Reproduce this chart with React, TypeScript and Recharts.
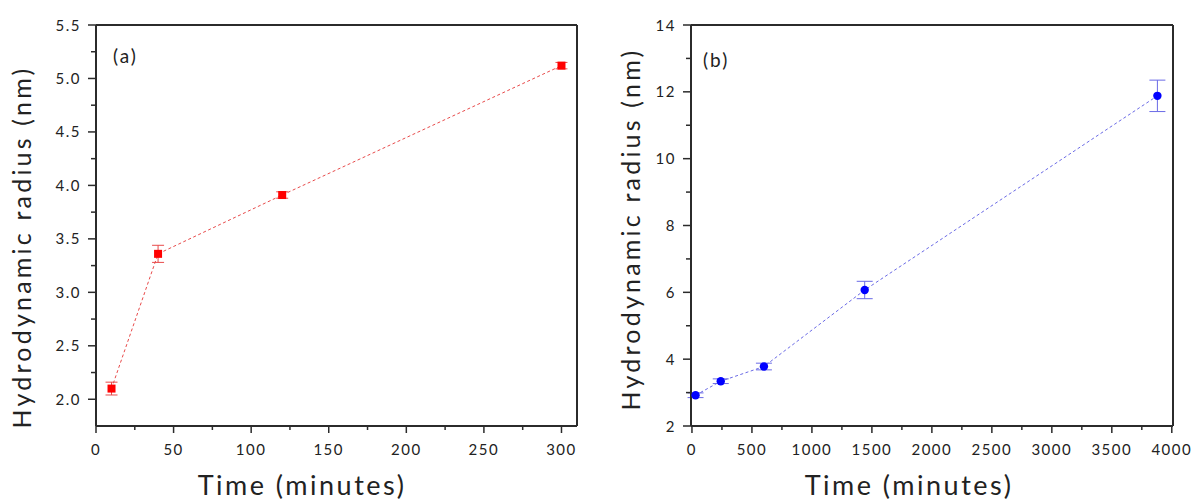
import { ErrorBar, Line, LineChart, ReferenceLine, XAxis, YAxis } from 'recharts'

// panel (a)
const timeA = [10, 40, 120, 300]
const radiusA = [2.1, 3.36, 3.91, 5.12]
const errA = [0.06, 0.08, 0.03, 0.03]
const xTicksA = [0, 25, 50, 75, 100, 125, 150, 175, 200, 225, 250, 275, 300]
const yTicksA = [2.0, 2.25, 2.5, 2.75, 3.0, 3.25, 3.5, 3.75, 4.0, 4.25, 4.5, 4.75, 5.0, 5.25, 5.5]

// panel (b)
const timeB = [30, 240, 600, 1440, 3880]
const radiusB = [2.92, 3.34, 3.78, 6.07, 11.88]
const errB = [0.07, 0.07, 0.1, 0.26, 0.47]
const xTicksB = [0, 250, 500, 750, 1000, 1250, 1500, 1750, 2000, 2250, 2500, 2750, 3000, 3250, 3500, 3750, 4000]
const yTicksB = [2, 3, 4, 5, 6, 7, 8, 9, 10, 11, 12, 13, 14]

const FONT = 'Lato, "Open Sans", sans-serif'
const AXIS = '#2b2b2b'
const TEXT = '#222'

const isMajor = (v: number, step: number) => Math.abs(v / step - Math.round(v / step)) < 1e-6

function makeXTick(step: number, fmt: (v: number) => string) {
  return (props: any) => {
    const { x, y, payload } = props
    const major = isMajor(payload.value, step)
    return (
      <g>
        <line x1={x} x2={x} y1={y} y2={y + (major ? 7 : 4)} stroke={AXIS} strokeWidth={1.5} />
        {major && (
          <text x={x} y={y + 29} textAnchor="middle" fontSize={15} letterSpacing={1.5} fill={TEXT} fontFamily={FONT}>
            {fmt(payload.value)}
          </text>
        )}
      </g>
    )
  }
}

function makeYTick(step: number, fmt: (v: number) => string) {
  return (props: any) => {
    const { x, y, payload } = props
    const major = isMajor(payload.value, step)
    return (
      <g>
        <line x1={x - (major ? 8 : 5)} x2={x} y1={y} y2={y} stroke={AXIS} strokeWidth={1.5} />
        {major && (
          <text x={x - 15} y={y + 5.5} textAnchor="end" fontSize={15} letterSpacing={1.5} fill={TEXT} fontFamily={FONT}>
            {fmt(payload.value)}
          </text>
        )}
      </g>
    )
  }
}

type PanelProps = {
  left: number
  times: number[]
  radii: number[]
  errs: number[]
  xDomain: [number, number]
  yDomain: [number, number]
  xTicks: number[]
  yTicks: number[]
  xStep: number
  yStep: number
  yFmt: (v: number) => string
  yWidth: number
  marginRight: number
  color: string
  lineColor: string
  square: boolean
  capWidth: number
  tag: string
  tagPos: [number, number]
  yTitlePos: [number, number]
  xTitlePos: [number, number]
}

function Panel(p: PanelProps) {
  const data = p.times.map((t, i) => ({ t, r: p.radii[i], e: p.errs[i] }))
  const bottom = 501 - 426
  return (
    <div style={{ position: 'absolute', left: p.left, top: 0, width: 600, height: 501 }}>
      <LineChart width={600} height={501} data={data} margin={{ top: 25, right: p.marginRight, left: 0, bottom: 0 }}>
        <XAxis
          dataKey="t"
          type="number"
          domain={p.xDomain}
          ticks={p.xTicks}
          interval={0}
          height={bottom}
          tickSize={0}
          tickMargin={0}
          tickLine={false}
          tick={makeXTick(p.xStep, (v) => String(v))}
          axisLine={{ stroke: AXIS, strokeWidth: 2 }}
          allowDataOverflow
        />
        <YAxis
          type="number"
          domain={p.yDomain}
          ticks={p.yTicks}
          interval={0}
          width={p.yWidth}
          tickSize={0}
          tickMargin={0}
          tickLine={false}
          tick={makeYTick(p.yStep, p.yFmt)}
          axisLine={{ stroke: AXIS, strokeWidth: 2 }}
          allowDataOverflow
        />
        {/* box: top and right edges of the frame */}
        <ReferenceLine y={p.yDomain[1]} stroke={AXIS} strokeWidth={2} />
        <ReferenceLine x={p.xDomain[1]} stroke={AXIS} strokeWidth={2} />
        <Line
          dataKey="r"
          stroke={p.lineColor}
          strokeWidth={1}
          strokeDasharray="3 2.5"
          isAnimationActive={false}
          dot={(d: any) =>
            p.square ? (
              <rect key={d.index} x={d.cx - 4} y={d.cy - 4} width={8} height={8} fill={p.color} />
            ) : (
              <circle key={d.index} cx={d.cx} cy={d.cy} r={4.2} fill={p.color} />
            )
          }
          activeDot={false}
        >
          <ErrorBar dataKey="e" direction="y" width={p.capWidth} stroke={p.lineColor} strokeWidth={1} isAnimationActive={false} />
        </Line>
      </LineChart>
      <div
        style={{
          position: 'absolute', left: p.tagPos[0], top: p.tagPos[1], fontFamily: FONT, fontSize: 19,
          letterSpacing: 2, color: TEXT, lineHeight: 1,
        }}
      >
        {p.tag}
      </div>
      <div
        style={{
          position: 'absolute', left: p.yTitlePos[0], top: p.yTitlePos[1], fontFamily: FONT, fontSize: 25,
          letterSpacing: 3.2, color: TEXT, whiteSpace: 'nowrap', lineHeight: 1,
          transform: 'translate(-50%, -50%) rotate(-90deg)',
        }}
      >
        Hydrodynamic radius (nm)
      </div>
      <div
        style={{
          position: 'absolute', left: p.xTitlePos[0], top: p.xTitlePos[1], fontFamily: FONT, fontSize: 27,
          letterSpacing: 2.5, color: TEXT, whiteSpace: 'nowrap', lineHeight: 1,
          transform: 'translate(-50%, -50%)',
        }}
      >
        Time (minutes)
      </div>
    </div>
  )
}

export default function App() {
  return (
    <div style={{ position: 'absolute', left: 0, top: 0, width: 1200, height: 501, background: '#fff', overflow: 'hidden' }}>
      <Panel
        left={0}
        times={timeA}
        radii={radiusA}
        errs={errA}
        xDomain={[0, 310]}
        yDomain={[1.75, 5.5]}
        xTicks={xTicksA}
        yTicks={yTicksA}
        xStep={50}
        yStep={0.5}
        yFmt={(v) => v.toFixed(1)}
        yWidth={96}
        marginRight={23}
        color="#ff0000"
        lineColor="#e84a4a"
        square
        capWidth={6}
        tag="(a)"
        tagPos={[113, 46]}
        yTitlePos={[21, 247]}
        xTitlePos={[302, 484]}
      />
      <Panel
        left={600}
        times={timeB}
        radii={radiusB}
        errs={errB}
        xDomain={[-8, 4010]}
        yDomain={[2, 14]}
        xTicks={xTicksB}
        yTicks={yTicksB}
        xStep={500}
        yStep={2}
        yFmt={(v) => String(v)}
        yWidth={91}
        marginRight={27}
        color="#0000ff"
        lineColor="#6a6ae6"
        square={false}
        capWidth={8}
        tag="(b)"
        tagPos={[103, 50]}
        yTitlePos={[30, 229]}
        xTitlePos={[309, 484]}
      />
    </div>
  )
}
